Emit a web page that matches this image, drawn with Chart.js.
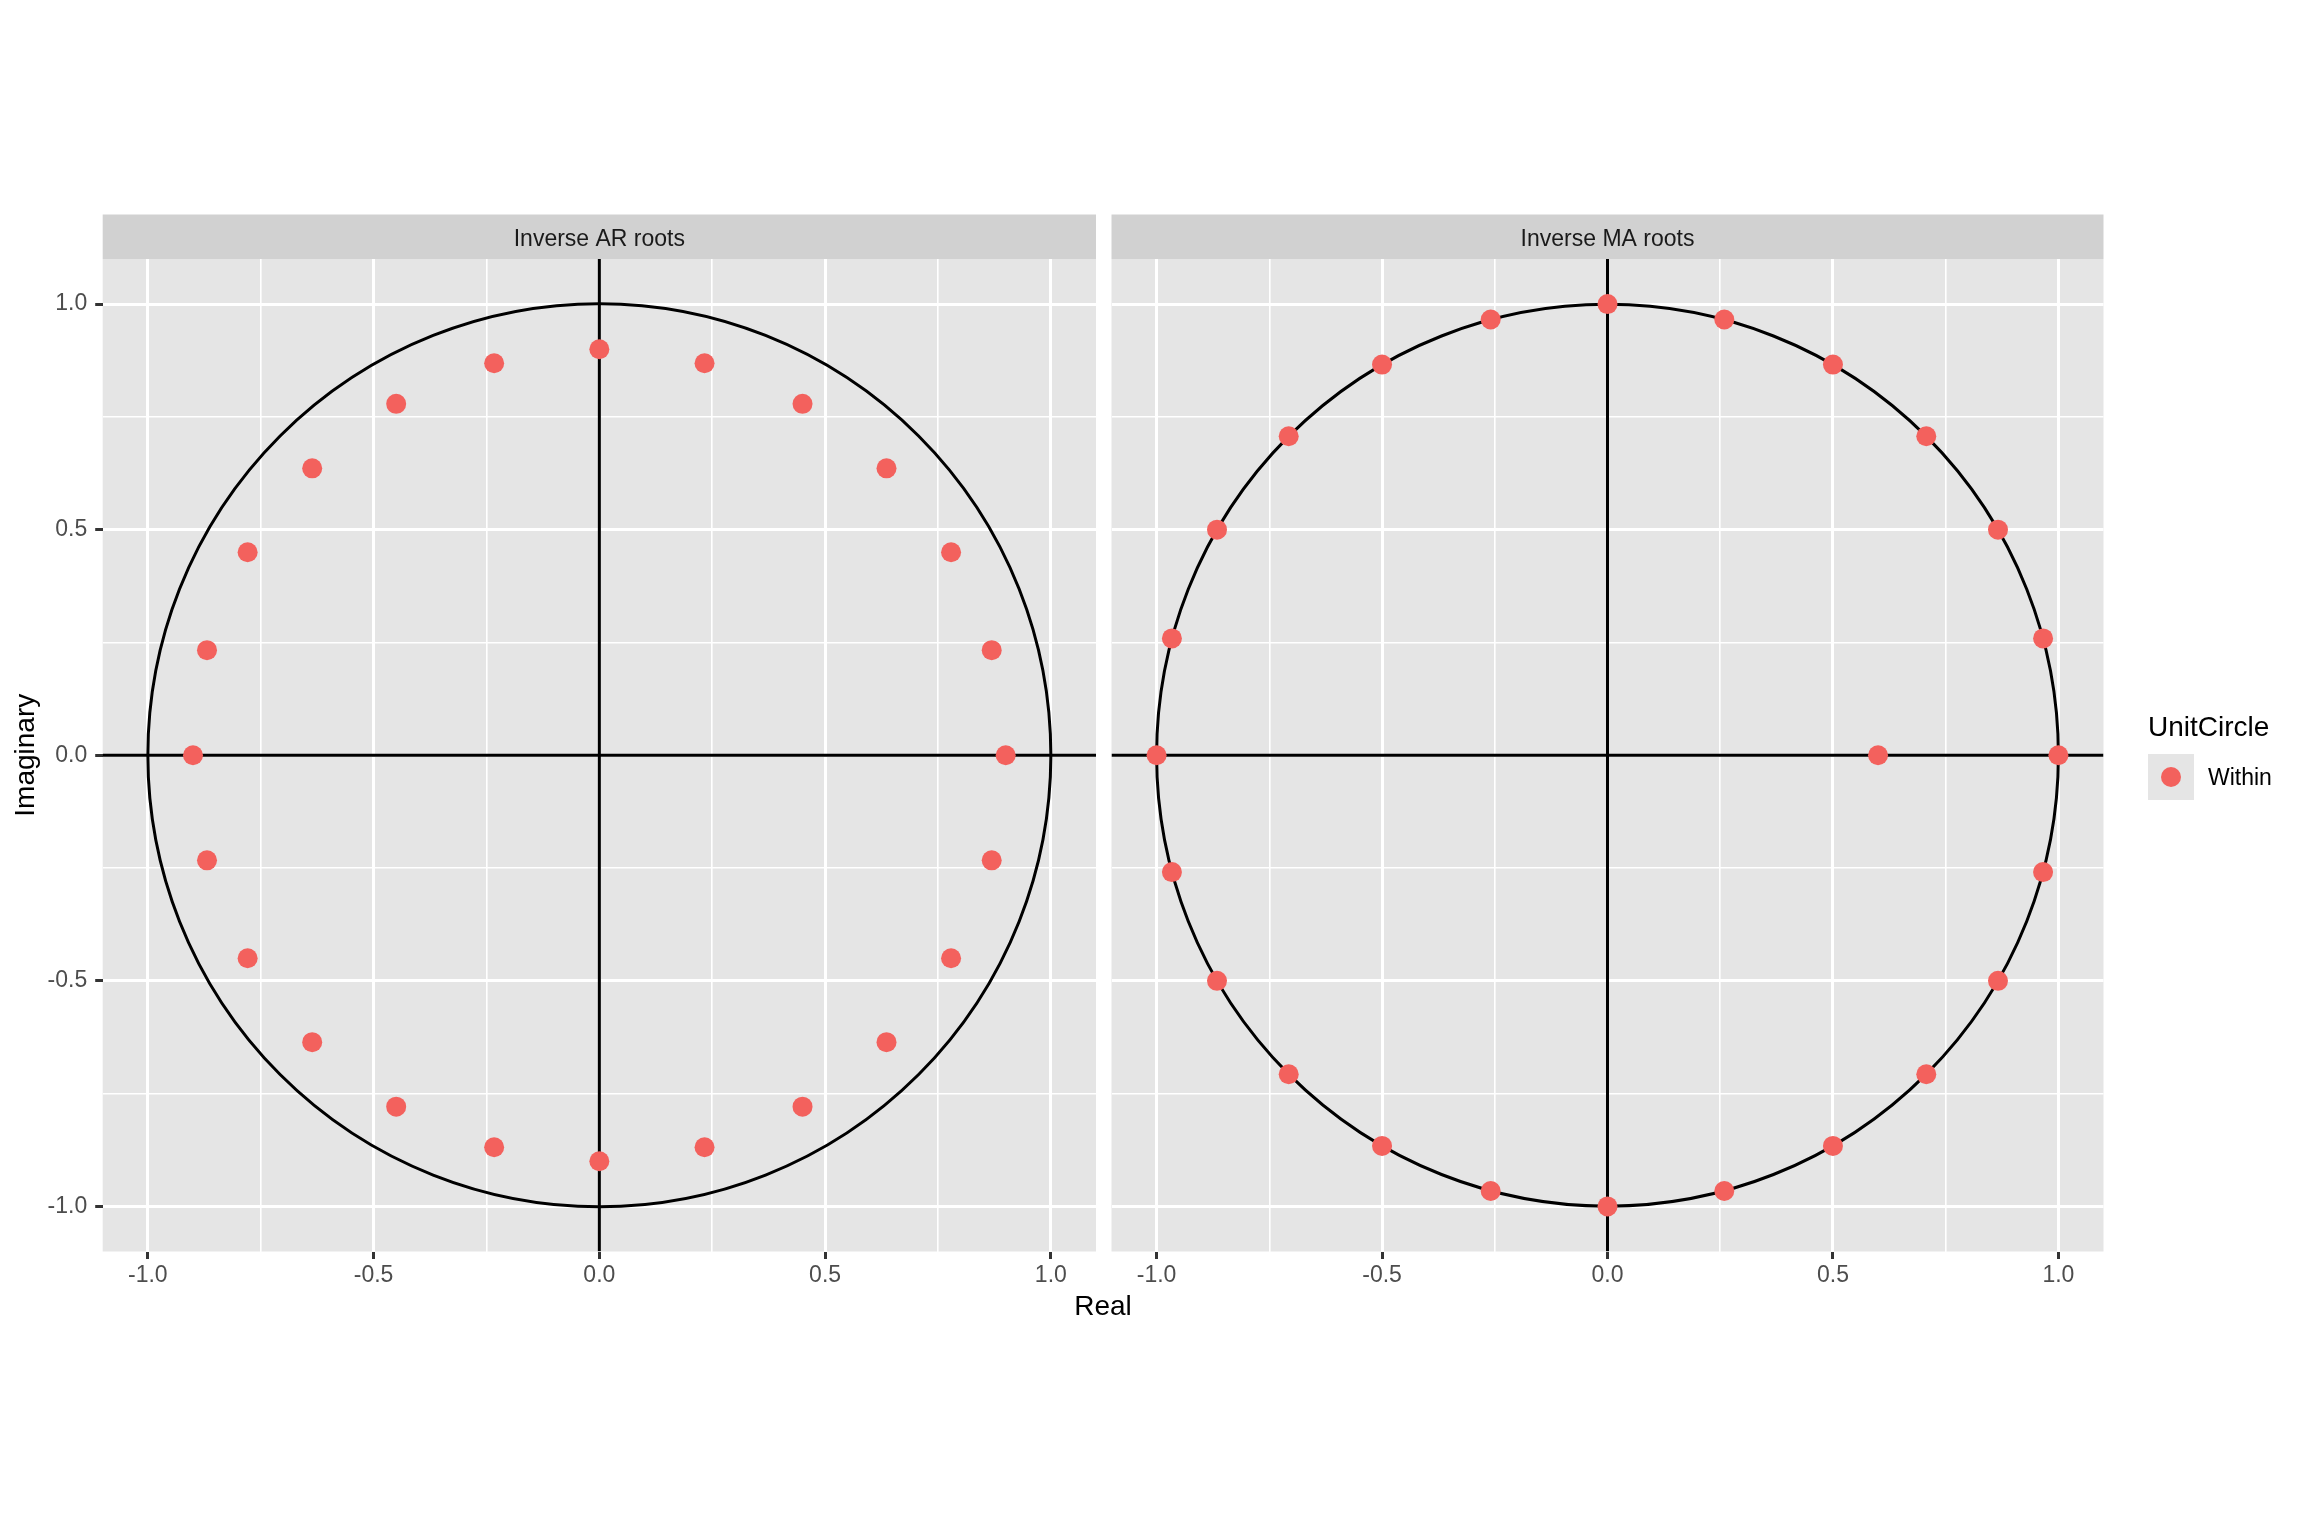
<!DOCTYPE html>
<html>
<head>
<meta charset="utf-8">
<script src="https://cdn.jsdelivr.net/npm/chart.js@4.4.1/dist/chart.umd.min.js"></script>
<style>
  body { margin:0; width:2304px; height:1536px; background:#fff; position:relative; overflow:hidden; font-family:'Liberation Sans', Arial, sans-serif; }
  .abs { position:absolute; }
  #xTitle { left:903px; width:400px; top:1292px; text-align:center; font-size:28px; line-height:28px; color:#000; }
  #legTitle { left:2148px; top:713px; font-size:28px; line-height:28px; color:#000; white-space:nowrap; }
  #legKey { left:2148px; top:754px; width:46px; height:46px; background:#E5E5E5; }
  #legKey span { position:absolute; left:13px; top:13px; width:20px; height:20px; border-radius:50%; background:#F3615D; }
  #legLabel { left:2208px; top:766px; font-size:23px; line-height:23px; color:#000; }
</style>
</head>
<body>
<canvas id="arChart" class="abs" style="left:0;top:0" width="1106" height="1340"></canvas>
<canvas id="maChart" class="abs" style="left:1100px;top:0" width="1204" height="1340"></canvas>
<div id="xTitle" class="abs">Real</div>
<div id="legTitle" class="abs">UnitCircle</div>
<div id="legKey" class="abs"><span></span></div>
<div id="legLabel" class="abs">Within</div>
<script>
// facet titles
var facetTitles = ['Inverse AR roots', 'Inverse MA roots'];

// inverse AR roots (real / imaginary parts)
var arRe = [0.9, 0.869, 0.779, 0.636, 0.45, 0.233, 0, -0.233, -0.45, -0.636, -0.779, -0.869,
            -0.9, -0.869, -0.779, -0.636, -0.45, -0.233, 0, 0.233, 0.45, 0.636, 0.779, 0.869];
var arIm = [0, 0.233, 0.45, 0.636, 0.779, 0.869, 0.9, 0.869, 0.779, 0.636, 0.45, 0.233,
            0, -0.233, -0.45, -0.636, -0.779, -0.869, -0.9, -0.869, -0.779, -0.636, -0.45, -0.233];

// inverse MA roots
var maRe = [1, 0.966, 0.866, 0.707, 0.5, 0.259, 0, -0.259, -0.5, -0.707, -0.866, -0.966,
            -1, -0.966, -0.866, -0.707, -0.5, -0.259, 0, 0.259, 0.5, 0.707, 0.866, 0.966, 0.6];
var maIm = [0, 0.259, 0.5, 0.707, 0.866, 0.966, 1, 0.966, 0.866, 0.707, 0.5, 0.259,
            0, -0.259, -0.5, -0.707, -0.866, -0.966, -1, -0.966, -0.866, -0.707, -0.5, -0.259, 0];

// axis breaks
var gridBreaks = [-1, -0.75, -0.5, -0.25, 0, 0.25, 0.5, 0.75, 1];
var majorBreaks = [-1, -0.5, 0, 0.5, 1];
var tickLabels = ['-1.0', '-0.5', '0.0', '0.5', '1.0'];
var axisLimits = [-1.1, 1.1];
var unitRadius = 1;

var FONT = "'Liberation Sans', Arial, sans-serif";
var POINT = '#F3615D';

function isMajor(v) {
    return majorBreaks.indexOf(v) !== -1;
}

function toPoints(re, im) {
    return re.map(function (r, i) { return { x: r, y: im[i] }; });
}

var panelDecor = {
    id: 'panelDecor',
    beforeDraw: function (chart, args, opts) {
        var a = chart.chartArea, c = chart.ctx;
        c.save();
        c.fillStyle = '#E5E5E5';
        c.fillRect(a.left, a.top, a.right - a.left, a.bottom - a.top);
        // facet strip
        c.fillStyle = '#D1D1D1';
        c.fillRect(a.left, a.top - 44.5, a.right - a.left, 44.5);
        c.fillStyle = '#1A1A1A';
        c.font = '23px ' + FONT;
        c.textAlign = 'center';
        c.textBaseline = 'alphabetic';
        c.fillText(opts.title, (a.left + a.right) / 2, a.top - 13.3);
        c.restore();
    },
    beforeDatasetsDraw: function (chart) {
        var a = chart.chartArea, c = chart.ctx;
        var xs = chart.scales.x, ys = chart.scales.y;
        var x0 = xs.getPixelForValue(0), y0 = ys.getPixelForValue(0);
        var r = xs.getPixelForValue(unitRadius) - x0;
        c.save();
        c.beginPath();
        c.rect(a.left, a.top, a.right - a.left, a.bottom - a.top);
        c.clip();
        c.strokeStyle = '#000';
        c.lineWidth = 3;
        c.beginPath();
        c.moveTo(a.left, y0); c.lineTo(a.right, y0);
        c.moveTo(x0, a.top); c.lineTo(x0, a.bottom);
        c.stroke();
        c.beginPath();
        c.arc(x0, y0, r, 0, Math.PI * 2);
        c.stroke();
        c.restore();
    }
};

function axisGrid(showTicks) {
    return {
        color: '#FFFFFF',
        lineWidth: function (ctx) { return ctx.tick && isMajor(ctx.tick.value) ? 3 : 1.6; },
        drawTicks: showTicks,
        tickLength: 7.5,
        tickWidth: 3,
        tickColor: function (ctx) { return ctx.tick && isMajor(ctx.tick.value) ? '#333333' : 'rgba(0,0,0,0)'; }
    };
}

function setBreaks(scale) {
    scale.ticks = gridBreaks.map(function (v) { return { value: v }; });
}

function labelFor(v) {
    var i = majorBreaks.indexOf(v);
    return i === -1 ? '' : tickLabels[i];
}

function noPadding(s) {
    s.paddingLeft = 0;
    s.paddingRight = 0;
    s.paddingTop = 0;
    s.paddingBottom = 0;
}

function makePanel(id, title, re, im, withY, pad) {
    return new Chart(document.getElementById(id), {
        type: 'scatter',
        data: {
            datasets: [{
                label: 'Within',
                data: toPoints(re, im),
                backgroundColor: POINT,
                borderWidth: 0,
                pointRadius: 10,
                pointHoverRadius: 10
            }]
        },
        options: {
            responsive: false,
            animation: false,
            events: [],
            layout: { padding: pad },
            plugins: {
                legend: { display: false },
                tooltip: { enabled: false },
                panelDecor: { title: title }
            },
            scales: {
                x: {
                    type: 'linear',
                    position: 'bottom',
                    min: axisLimits[0],
                    max: axisLimits[1],
                    afterBuildTicks: setBreaks,
                    afterFit: function (s) { s.height = 50; noPadding(s); },
                    border: { display: false },
                    grid: axisGrid(true),
                    ticks: {
                        autoSkip: false,
                        maxRotation: 0,
                        padding: 3,
                        color: '#4D4D4D',
                        font: { family: FONT, size: 23 },
                        callback: labelFor
                    }
                },
                y: {
                    type: 'linear',
                    position: 'left',
                    min: axisLimits[0],
                    max: axisLimits[1],
                    afterBuildTicks: setBreaks,
                    afterFit: function (s) { s.width = withY ? 102.7 : 0; noPadding(s); },
                    border: { display: false },
                    grid: axisGrid(withY),
                    title: {
                        display: withY,
                        text: 'Imaginary',
                        color: '#000',
                        padding: { top: 9, bottom: 0 },
                        font: { family: FONT, size: 28 }
                    },
                    ticks: {
                        display: withY,
                        autoSkip: false,
                        padding: 8,
                        color: '#4D4D4D',
                        font: { family: FONT, size: 23 },
                        callback: labelFor
                    }
                }
            }
        },
        plugins: [panelDecor]
    });
}

makePanel('arChart', facetTitles[0], arRe, arIm, true,
    { left: 0, top: 259, right: 5.5, bottom: 38.5 });
makePanel('maChart', facetTitles[1], maRe, maIm, false,
    { left: 11.5, top: 259, right: 200.5, bottom: 38.5 });
</script>
</body>
</html>
